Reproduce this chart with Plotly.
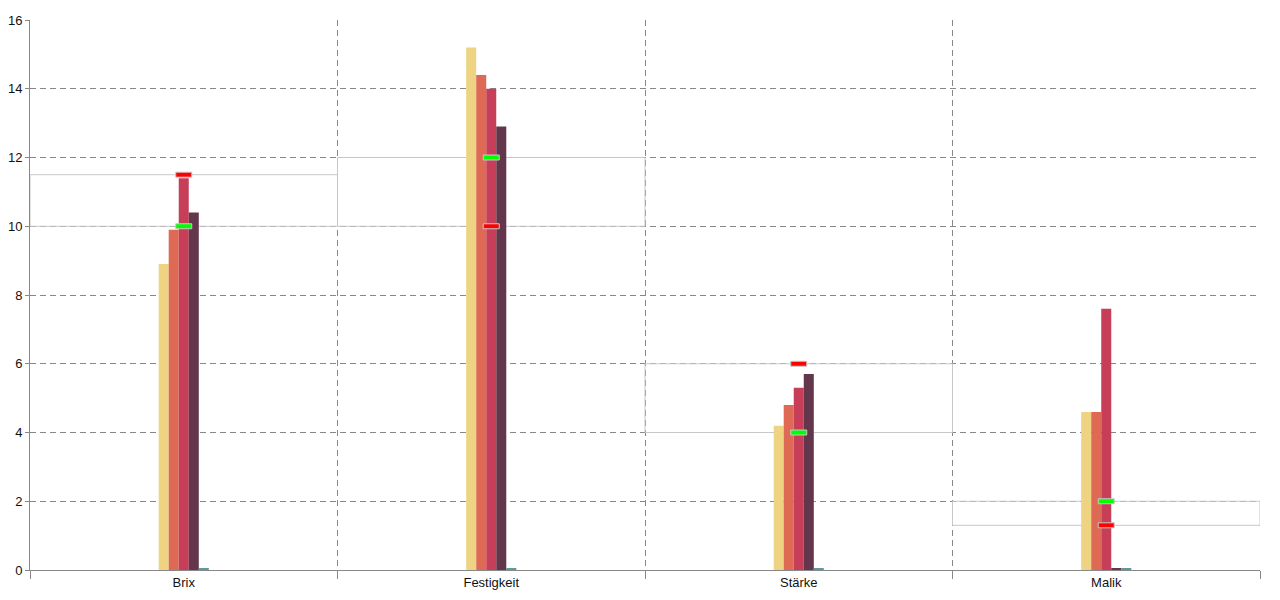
import plotly.graph_objects as go

categories = ["Brix", "Festigkeit", "Stärke", "Malik"]
series_names = ["Serie 1", "Serie 2", "Serie 3", "Serie 4", "Serie 5"]
series_values = [
    [8.9, 15.2, 4.2, 4.6],
    [9.9, 14.4, 4.8, 4.6],
    [11.4, 14.0, 5.3, 7.6],
    [10.4, 12.9, 5.7, 0.03],
    [0.03, 0.03, 0.03, 0.03],
]
series_colors = ["#EDD382", "#DE6A55", "#C73E58", "#64364B", "#5E9A9A"]
green_marks = [10, 12, 4, 2]
red_marks = [11.5, 10, 6, 1.3]
y_ticks = [0, 2, 4, 6, 8, 10, 12, 14, 16]

fig = go.Figure()
for name, vals, col in zip(series_names, series_values, series_colors):
    fig.add_trace(go.Bar(x=categories, y=vals, name=name, marker=dict(color=col, line=dict(width=0))))

shapes = []
for i, (g, r) in enumerate(zip(green_marks, red_marks)):
    shapes.append(dict(type="rect", xref="x", yref="y", x0=i - 0.5, x1=i + 0.5,
                       y0=min(g, r), y1=max(g, r), line=dict(color="#C8C8C8", width=1),
                       fillcolor="rgba(0,0,0,0)", layer="between"))
for i, (g, r) in enumerate(zip(green_marks, red_marks)):
    for v, c in ((g, "#00FF00"), (r, "#FF0000")):
        shapes.append(dict(type="rect", xref="x", yref="y", xsizemode="pixel", ysizemode="pixel",
                           xanchor=i, yanchor=v, x0=-8, x1=8, y0=-2.5, y1=2.5,
                           fillcolor=c, line=dict(color="#C8C8C8", width=1), layer="above"))

fig.update_layout(
    width=1280, height=600,
    margin=dict(l=22, r=28, t=12, b=38),
    plot_bgcolor="white", paper_bgcolor="white",
    barmode="group", bargap=0.837, bargroupgap=0,
    showlegend=False,
    shapes=shapes,
    font=dict(family="Liberation Sans, Arial, sans-serif", size=13, color="#111111"),
    xaxis=dict(
        type="category", tickson="boundaries", ticks="outside", ticklen=8, tickcolor="#888888",
        showgrid=True, gridcolor="#888888", griddash="6px,4px", gridwidth=1,
        showline=True, linecolor="#888888", linewidth=1, automargin=False,
        tickfont=dict(size=13, color="#111111"), range=[-0.5, 3.5],
    ),
    yaxis=dict(
        range=[0, 16], tickvals=y_ticks, ticks="outside", ticklen=4, tickcolor="#888888",
        showgrid=True, gridcolor="#888888", griddash="6px,4px", gridwidth=1,
        showline=True, linecolor="#888888", linewidth=1, zeroline=False, automargin=False,
        tickfont=dict(size=13, color="#111111"),
    ),
)

fig.write_html("out.html")
